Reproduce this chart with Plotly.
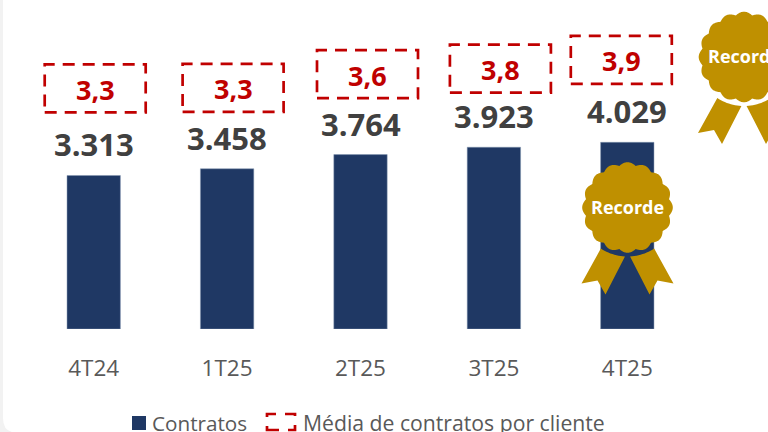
import math
import plotly.graph_objects as go

categories = ["4T24", "1T25", "2T25", "3T25", "4T25"]
contratos = [3313, 3458, 3764, 3923, 4029]
contratos_labels = ["3.313", "3.458", "3.764", "3.923", "4.029"]
media = [3.3, 3.3, 3.6, 3.8, 3.9]
media_labels = ["3,3", "3,3", "3,6", "3,8", "3,9"]

# layout only: pixel nudges of the dashed boxes relative to their anchors
box_dx = [1.5, 6, 7, 6.5, -6]
box_dy = [0, 0.5, 0, -4, 0]

W, H = 768, 432
L, R, T, B = 27, 74, 0, 103
NAVY, RED, GOLD, DARK, GREY = "#1f3864", "#c00000", "#bf9000", "#404040", "#595959"
FONT = "Open Sans"

def px(x):
    return (x - L) / (W - L - R)

def py(y):
    return (H - B - y) / (H - T - B)

def path(points):
    return "M" + " L".join(f"{px(x):.5f},{py(y):.5f}" for x, y in points) + " Z"

def rosette_shapes(cx, cy):
    out = []
    n, pts = 16, []
    for i in range(640):
        t = 2 * math.pi * i / 640
        r = 42.3 + 3.0 * abs(math.cos(n * t / 2))
        pts.append((cx + r * math.cos(t), cy + r * math.sin(t)))
    for sign in (-1, 1):
        ring = []
        for k in range(13):
            a = math.radians(57 + k * (87 - 57) / 12)
            ring.append((cx + sign * 49 * math.cos(a), cy + 49 * math.sin(a)))
        tail = [(cx + sign * 22, cy + 87), (cx + sign * 30, cy + 73), (cx + sign * 46, cy + 76)]
        out.append(dict(type="path", xref="paper", yref="paper", path=path(ring + tail),
                        fillcolor=GOLD, line_width=0, layer="above"))
    out.append(dict(type="path", xref="paper", yref="paper", path=path(pts),
                    fillcolor=GOLD, line_width=0, layer="above"))
    return out

fig = go.Figure()
fig.add_trace(go.Bar(
    x=categories, y=contratos, name="Contratos", width=0.4,
    marker=dict(color=NAVY, line=dict(color="#8496b0", width=0.5)),
    cliponaxis=False, hoverinfo="skip",
))
fig.add_trace(go.Scatter(
    x=categories, y=media, name="Média de contratos por cliente", yaxis="y2",
    mode="markers", marker=dict(opacity=0), hoverinfo="skip",
))

shapes, annotations = [], []
shapes.append(dict(type="path", xref="paper", yref="paper", layer="below", line_width=0,
                   fillcolor="#f2f2f2",
                   path=f"M{px(0)},{py(0)} L{px(3)},{py(0)} L{px(3)},{py(418)} "
                        f"Q{px(3)},{py(430)} {px(12)},{py(432)} L{px(0)},{py(432)} Z"))

for cat, v, lab in zip(categories, contratos, contratos_labels):
    annotations.append(dict(x=cat, y=v, xref="x", yref="y", text=f"<b>{lab}</b>", showarrow=False,
                            yanchor="middle", yshift=31, font=dict(family=FONT, size=31, color=DARK)))

for cat, v, lab, dx, dy in zip(categories, media, media_labels, box_dx, box_dy):
    shapes.append(dict(type="rect", xref="x", yref="y2", xsizemode="pixel", ysizemode="pixel",
                       xanchor=cat, yanchor=v, x0=dx - 50.5, x1=dx + 50.5,
                       y0=dy - 24, y1=dy + 24, layer="above",
                       line=dict(color=RED, width=2.7, dash="12px,8px")))
    annotations.append(dict(x=cat, y=v, xref="x", yref="y2", text=f"<b>{lab}</b>", showarrow=False,
                            xshift=dx, yshift=dy - 1, font=dict(family=FONT, size=27, color=RED)))

for cx, cy in [(627.5, 207.5), (744, 57)]:
    shapes += rosette_shapes(cx, cy)
    annotations.append(dict(x=px(cx), y=py(cy - 1), xref="paper", yref="paper", xanchor="center",
                            yanchor="middle", text="<b>Recorde</b>", showarrow=False,
                            font=dict(family=FONT, size=18, color="white")))

shapes.append(dict(type="rect", xref="paper", yref="paper", x0=px(132), x1=px(146), y0=py(430), y1=py(416),
                   fillcolor=NAVY, line_width=0))
shapes.append(dict(type="rect", xref="paper", yref="paper", x0=px(267), x1=px(295), y0=py(430), y1=py(414),
                   line=dict(color=RED, width=2.7, dash="12px,9px")))
annotations.append(dict(x=px(150), y=py(423), xref="paper", yref="paper", xanchor="left", yanchor="middle",
                        text="Contratos", showarrow=False, font=dict(family=FONT, size=20.7, color=GREY)))
annotations.append(dict(x=px(301), y=py(423), xref="paper", yref="paper", xanchor="left", yanchor="middle",
                        text="Média de contratos por cliente", showarrow=False,
                        font=dict(family=FONT, size=21.2, color=GREY)))

fig.update_layout(
    width=W, height=H, margin=dict(l=L, r=R, t=T, b=B, pad=0),
    paper_bgcolor="white", plot_bgcolor="white", showlegend=False, bargap=0.6,
    font=dict(family=FONT),
    xaxis=dict(type="category", categoryorder="array", categoryarray=categories,
               range=[-0.5, 4.5], showgrid=False, zeroline=False, showline=False, ticks="outside",
               ticklen=19, tickcolor="rgba(0,0,0,0)", tickfont=dict(family=FONT, size=22.5, color=GREY)),
    yaxis=dict(range=[0, 7100], visible=False, showgrid=False, zeroline=False),
    yaxis2=dict(range=[-1.76, 5.16], overlaying="y", visible=False, showgrid=False, zeroline=False),
    shapes=shapes, annotations=annotations,
)
fig.write_html("out.html", config=dict(displayModeBar=False),
               post_script="document.body.style.margin='0';document.body.style.overflow='hidden';")
